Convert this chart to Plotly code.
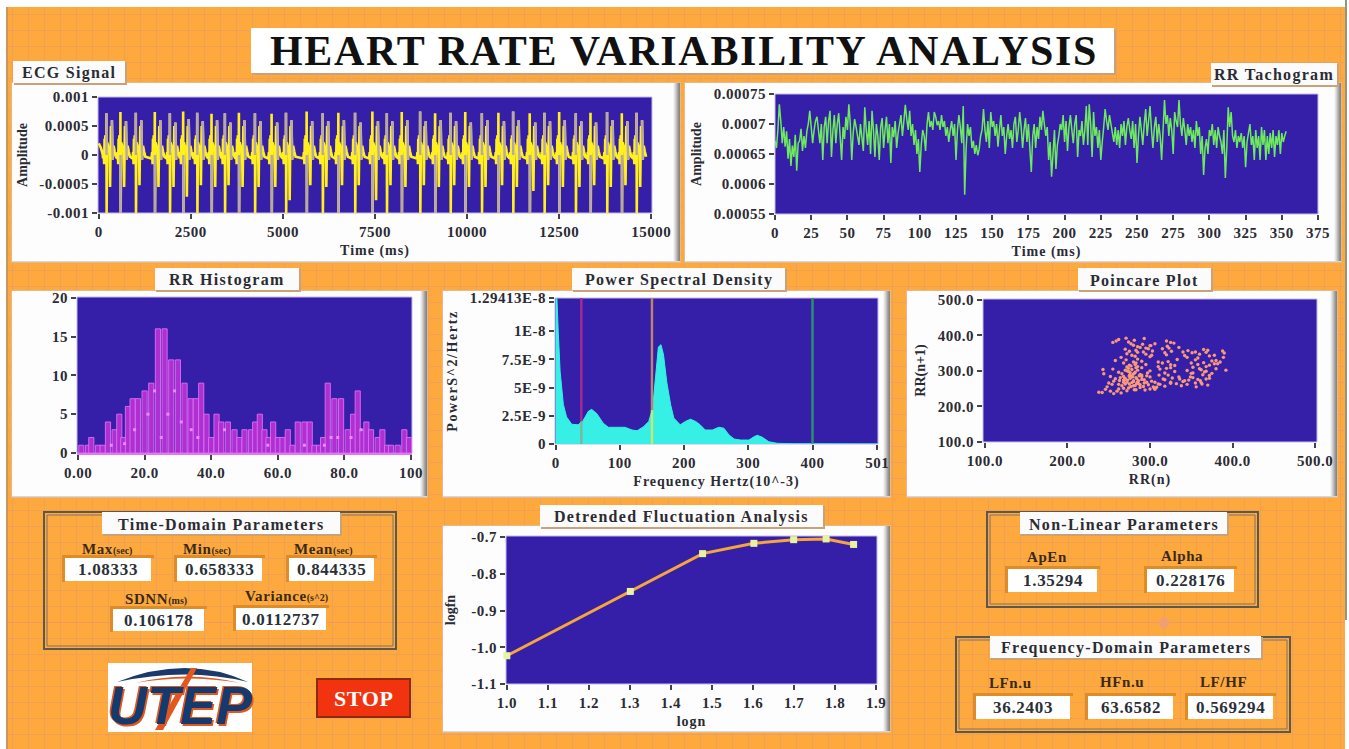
import plotly.graph_objects as go

W, H = 1349, 749
SERIF = "Liberation Serif"
INK = "#2b2b33"
ORANGE = "#FDA93E"
GRID = "#F0A056"
BLUE = "#361FA8"

# ---------- ECG ----------
ecg_beat_times = [208, 589, 1006, 1522, 1930, 2292, 2673, 3062, 3424, 3805, 4240, 4693, 5083, 5644, 6079, 6505,
                  6958, 7429, 7820, 8226, 8725, 9132, 9550, 9950, 10400, 10850, 11250, 11700, 12100, 12500,
                  12950, 13350, 13800, 14200, 14600]
ecg_up1 = [0.00072, 0.00074, 0.00073, 0.00074, 0.00072, 0.00075, 0.00073, 0.00071, 0.00072, 0.00073, 0.00072, 0.00071, 0.00073,
           0.00075, 0.00072, 0.00073, 0.00073, 0.00075, 0.00072, 0.00074, 0.00075, 0.00072, 0.00073, 0.00074, 0.00072, 0.00073,
           0.00075, 0.00072, 0.00073, 0.00074, 0.00072, 0.00073, 0.00074, 0.00072, 0.00073]
ecg_down2 = [-0.00055, -0.00055, -0.00052, -0.00055, -0.00055, -0.00072, -0.00052, -0.00055, -0.00052, -0.00055, -0.00055, -0.00055, -0.00078,
             -0.00052, -0.00055, -0.00052, -0.00052, -0.00078, -0.00052, -0.00055, -0.00052, -0.00055, -0.00052, -0.00055, -0.00055, -0.00052,
             -0.00055, -0.00062, -0.00052, -0.00055, -0.00055, -0.00052, -0.00055, -0.00052, -0.00055]
ecg_up2 = [0.00060, 0.00058, 0.00060, 0.00060, 0.00056, 0.00062, 0.00058, 0.00060, 0.00056, 0.00060, 0.00058, 0.00056, 0.00060,
           0.00058, 0.00058, 0.00060, 0.00056, 0.00058, 0.00058, 0.00060, 0.00058, 0.00060, 0.00058, 0.00056, 0.00060, 0.00058,
           0.00060, 0.00056, 0.00058, 0.00060, 0.00058, 0.00056, 0.00060, 0.00058, 0.00060]
ecg_lead_t = [0, 60, 105]
ecg_lead_v = [0.00020, 0.00012, 0.00002]
ecg_shape_dt = [-90, -72, -60, -50, -40, -30, -20, -12, -5]
ecg_shape_v = [-0.00006, 0.00005, -0.00016, 0.00028, -0.00012, 0.00034, -0.00015, 0.00032, -0.00010]
ecg_tail_dt = [170, 195, 225, 260]
ecg_tail_v = [-0.00008, 0.00016, 0.00006, -0.00003]
ECG_MIN = -0.001

# ---------- RR tachogram (micro-amplitude units) ----------
tach_values = [672,660,690,733,705,668,695,662,688,642,675,630,664,645,682,622,668,672,692,655,680,660,688,700,722,695,668,690,705,712,
690,668,700,640,695,712,668,705,722,645,690,715,668,700,718,680,640,695,675,712,690,733,700,640,685,708,695,680,665,700,
678,655,728,690,665,705,650,722,690,645,700,680,640,695,710,660,690,712,668,700,635,695,678,705,660,685,700,715,680,705,
732,708,690,722,680,700,665,690,650,675,620,665,690,680,655,700,720,695,705,690,720,712,698,705,690,715,695,705,680,695,
670,690,705,680,700,640,690,715,695,668,730,582,660,700,680,695,660,672,650,665,648,658,680,690,725,690,670,705,660,720,
695,705,680,700,662,690,715,680,695,650,680,700,675,690,660,700,712,670,690,720,695,660,690,710,670,700,660,620,680,700,
660,695,675,712,690,722,700,680,695,640,670,612,650,690,625,665,680,700,690,715,670,705,655,695,715,690,668,700,715,645,
690,680,705,665,690,730,665,733,700,645,720,680,695,660,690,640,670,695,725,705,690,715,700,685,670,695,665,690,660,700,
680,705,665,695,710,690,675,705,660,700,635,680,712,690,665,700,725,680,705,730,690,660,695,712,670,700,680,640,690,740,
700,715,680,710,690,650,720,705,695,740,700,680,710,690,665,700,680,695,670,690,660,705,680,695,650,680,615,660,675,650,690,680,700,665,
690,660,695,680,670,650,690,610,660,728,695,720,680,670,690,660,680,670,685,660,680,628,670,685,700,665,680,640,690,660,
680,640,695,665,690,640,680,650,685,660,690,645,680,665,690,650,685,670,680,688]

# ---------- RR histogram ----------
hist_x = [1,3,4,6,7.4,9,11,12.4,13.6,15,16.4,18,20,22,24,26,28,30,32,33.8,35.4,37,38.6,40,41.6,43,45,47,48.5,50,52,53.2,54.6,56,57.2,58.6,60,61.4,63,64.4,
          66,68,69.6,71,72.4,73.6,75,77,79,81,82.6,84,85.4,86.6,88,90,91.4,92.8,94,96,98,99.4]
hist_y = [1,1,2,1,1,4,3,5,2,6,7,7,8,9,16,16,12,12,9,7,7,9,5,2,5,4,4,3,2,3,3,4,5,3,2,4,2,2,3,1,
          4,4,4,1,1,2,9,7,7,3,5,8,3,4,3,2,3,1,1,1,3,2]
hist_dot_x = [10, 14, 17, 21, 23, 25, 27, 29, 31, 34, 36, 44, 57, 68, 74, 76, 78, 82, 85]
hist_dot_y = [1, 1.2, 3, 5, 8, 2, 5, 8, 4, 3, 2, 3, 1, 1, 1, 2, 2, 2, 3]

# ---------- Power spectral density (1E-9 units) ----------
psd_f = [0,2,4,7,12,17,25,35,43,51,56,64,74,82,95,108,119,127,137,145,151,155,160,164,168,173,179,184,194,202,210,218,225,233,244,254,262,270,278,288,301,309,314,322,332,345,371,501]
psd_p = [12.9,12.9,10,6.4,3.5,2.4,1.75,1.7,2.1,2.9,3.07,2.7,1.85,1.48,1.48,1.48,1.24,1.18,1.54,2,3.16,5.8,8.6,8.8,7.9,5.5,3.5,2.3,1.7,2.0,2.2,2,1.7,1.24,1.24,1.48,1.4,0.8,0.44,0.35,0.35,0.65,0.77,0.59,0.2,0.06,0.02,0]
psd_marker_f = [40, 150, 400]
psd_marker_level = [2.0, 3.0, 0.05]
psd_marker_upper = ["#A62B92", "#BE8468", "#2E8F72"]
psd_marker_lower = ["#7FB59A", "#C8E86A", "#2E8F72"]

# ---------- Poincare ----------
poin_x = [262,271,274,293,255,259,277,281,301,320,325,329,280,285,291,295,300,306,315,321,335,
          270,275,283,288,292,298,303,318,323,340,346,355,365,370,272,278,285,295,300,320,326,342,351,360,368,378,388,
          265,282,302,322,333,345,358,372,380,390,258,285,290,310,325,355,365,375,389,
          268,275,280,285,295,315,325,330,350,358,368,378,385,255,272,278,282,290,300,320,330,352,362,372,382,
          243,262,270,276,283,290,310,318,345,352,360,368,375,392,244,268,274,280,285,296,312,322,350,366,372,380,
          252,258,264,270,275,280,283,288,293,300,306,316,335,342,352,358,364,372,
          250,256,262,268,272,276,280,284,290,296,302,310,318,325,332,340,347,355,361,368,
          248,254,262,266,270,274,278,282,286,292,298,305,312,318,325,338,345,356,362,370,
          246,260,268,272,277,283,288,294,300,308,238,242,252,256,265,306,
          266,272,278,284,273,279,285,268,275,281,287,263,270,276,282,288,274,280,
          286,277,283,290,271,269,281,275,293,297,304,311,327,336,349,363]
poin_y = [388,392,381,391,380,384,376,386,371,384,380,378,372,368,375,364,371,376,362,369,366,
          361,355,358,366,353,362,356,351,364,353,357,353,360,358,348,344,352,347,340,345,355,343,351,347,352,344,356,
          338,341,344,326,332,338,336,342,329,350,329,333,327,325,317,331,323,328,338,
          322,316,325,312,318,322,309,315,322,318,312,320,325,305,311,304,318,309,300,307,298,310,303,316,320,
          304,296,302,295,309,288,312,294,301,294,306,299,293,302,292,284,298,291,302,286,305,288,293,297,287,306,
          284,278,281,276,287,272,281,290,275,283,268,277,283,272,281,276,289,279,
          266,271,262,274,268,279,270,265,276,268,271,263,275,268,264,270,274,266,272,277,
          255,262,249,258,263,252,267,259,264,256,261,252,262,257,265,258,262,255,267,260,
          248,243,251,244,256,247,253,246,249,254,240,239,243,236,238,248,
          292,300,285,278,274,283,268,268,263,293,286,273,279,288,296,261,307,258,
          272,314,322,284,331,276,247,285,266,294,255,288,280,277,283,263]

# ---------- Detrended fluctuation ----------
dfa_logn = [1.0, 1.301, 1.477, 1.602, 1.699, 1.778, 1.845]
dfa_logf = [-1.023, -0.848, -0.745, -0.717, -0.707, -0.705, -0.72]

# ---------- Read-outs ----------
time_domain = [("Max", "(sec)", "1.08333"), ("Min", "(sec)", "0.658333"), ("Mean", "(sec)", "0.844335"),
               ("SDNN", "(ms)", "0.106178"), ("Variance", "(s^2)", "0.0112737")]
nonlinear = [("ApEn", "", "1.35294"), ("Alpha", "", "0.228176")]
freq_domain = [("LFn.u", "", "36.2403"), ("HFn.u", "", "63.6582"), ("LF/HF", "", "0.569294")]


def X(p): return p / W
def Y(p): return 1 - p / H


def sp(s, px):
    return f'<span style="letter-spacing:{px}px">{s}</span>' if s else s


shapes, annotations = [], []


def rect(x0, y0, x1, y1, fill=None, line=None, lw=0):
    shapes.append(dict(type="rect", xref="paper", yref="paper", layer="below",
                       x0=X(x0), x1=X(x1), y0=Y(y1), y1=Y(y0),
                       fillcolor=fill if fill else "rgba(0,0,0,0)",
                       line=dict(color=line if line else "rgba(0,0,0,0)", width=lw)))


def path(d, fill):
    shapes.append(dict(type="path", xref="paper", yref="paper", layer="below", fillcolor=fill,
                       line=dict(width=0), path=d))


def text(x, y, s, size=15, color=INK, bold=True, family=SERIF, italic=False, anchor="center", angle=0, shadow=None):
    font = dict(family=family, size=size, color=color,
                weight="bold" if bold else "normal",
                style="italic" if italic else "normal")
    if shadow:
        font["shadow"] = shadow
    annotations.append(dict(xref="paper", yref="paper", x=X(x), y=Y(y), text=s, showarrow=False,
                            xanchor=anchor, yanchor="middle", textangle=angle, font=font))


def panel(x0, y0, x1, y1):
    rect(x0 - 1, y0 - 1, x1 + 1, y1 + 1, fill="#E7B98A")
    rect(x0, y0, x1, y1, fill="#FDFDFD")
    grad = ["#F4F4F4", "#E4E4E4", "#D2D2D2", "#BDBDBD", "#A8A8A8", "#949494", "#868686"]
    for i, c in enumerate(grad):
        rect(x1 - len(grad) + i, y0, x1 - len(grad) + i + 1, y1, fill=c)
    rect(x0, y1 - 1, x1, y1, fill="#D8D8D8")


def caption(x0, y0, x1, y1, s, size=16):
    rect(x0 + 1, y0 + 1, x1 + 2, y1 + 2, fill="#C9A27A")
    rect(x0, y0, x1, y1, fill="#FBFBFB")
    text((x0 + x1) / 2, (y0 + y1) / 2 + 1, sp(s, 1.3), size=size)


def frame(x0, y0, x1, y1):
    rect(x0, y0, x1, y1, line="#5C584F", lw=2)
    rect(x0 + 3, y0 + 3, x1 - 3, y1 - 3, line="#7B7266", lw=1)


def readout(lx, ly, name, sub, x0, y0, x1, y1, value):
    label = sp(name, 0.6) if not sub else f'{sp(name, 0.6)}<span style="font-size:10px">{sub}</span>'
    text(lx, ly, label, size=15, color="#3A2A15")
    rect(x0 - 3, y0 - 3, x1 + 3, y0, fill="#DE8C28")
    rect(x0 - 3, y0 - 3, x0, y1 + 1, fill="#DE8C28")
    rect(x0, y0, x1, y1, fill="#FFFFFF")
    text((x0 + x1) / 2, (y0 + y1) / 2, sp(value, 0.7), size=17, color="#2A3038")


# ---------- Page background ----------
rect(0, 0, W, H, fill=ORANGE)
for gx in range(12, W, 16):
    rect(gx, 0, gx + 1, H, fill=GRID)
for gy in range(14, H, 16):
    rect(0, gy, W, gy + 1, fill=GRID)
rect(0, 622, W, 623, fill="#EE9A5E")
rect(0, 0, 6, H, fill="#FFFFFF")
rect(6, 7, 8, H, fill="#C6985E")
rect(0, 0, W, 7, fill="#FFFFFF")
rect(1345, 0, W, H, fill="#FFFFFF")
rect(1345, 0, 1347, 620, fill="#8C9A84")

# ---------- Panels ----------
panel(12, 83, 680, 262)
panel(685, 83, 1341, 262)
panel(12, 291, 427, 497)
panel(443, 291, 890, 497)
panel(907, 291, 1337, 497)
panel(443, 526, 890, 732)

# title
rect(253, 30, 1116, 75, fill="#C9A27A")
rect(251, 28, 1114, 73, fill="#FFFFFF")
text(684, 51, sp("HEART RATE VARIABILITY ANALYSIS", 1.7), size=42, color="#111111")

caption(13, 61, 125, 83, "ECG Signal")
caption(1211, 63, 1337, 85, "RR Tachogram")
caption(155, 268, 299, 290, "RR Histogram")
caption(572, 268, 785, 290, "Power Spectral Density")
caption(1078, 268, 1211, 290, "Poincare Plot")
caption(540, 505, 823, 527, "Detrended Fluctuation Analysis")

# ---------- Parameter frames ----------
frame(44, 512, 396, 649)
caption(102, 512, 340, 534, "Time-Domain Parameters")
td_pos = [(107, 549, 65, 558, 151, 581), (207, 549, 177, 558, 262, 581), (323, 549, 289, 558, 374, 581),
          (156, 599, 113, 609, 204, 631), (286, 596, 236, 608, 326, 630)]
for (n, s, v), (lx, ly, x0, y0, x1, y1) in zip(time_domain, td_pos):
    readout(lx, ly, n, s, x0, y0, x1, y1, v)

frame(987, 512, 1258, 607)
caption(1020, 512, 1227, 534, "Non-Linear Parameters")
nl_pos = [(1047, 557, 1008, 569, 1097, 592), (1182, 556, 1147, 569, 1234, 592)]
for (n, s, v), (lx, ly, x0, y0, x1, y1) in zip(nonlinear, nl_pos):
    readout(lx, ly, n, s, x0, y0, x1, y1, v)

frame(956, 637, 1290, 732)
caption(990, 636, 1261, 658, "Frequency-Domain Parameters")
fd_pos = [(1010, 683, 976, 696, 1070, 719), (1122, 682, 1088, 696, 1173, 719), (1223, 682, 1188, 696, 1273, 719)]
for (n, s, v), (lx, ly, x0, y0, x1, y1) in zip(freq_domain, fd_pos):
    readout(lx, ly, n, s, x0, y0, x1, y1, v)

path(f"M {X(1164)} {Y(616)} L {X(1171)} {Y(623)} L {X(1164)} {Y(630)} L {X(1157)} {Y(623)} Z", "#F0A070")

# ---------- STOP ----------
rect(316, 678, 411, 718, fill="#8E2A14")
rect(318, 680, 409, 716, fill="#F2330F")
text(363, 698, sp("STOP", 0.6), size=22, color="#FFFFFF")

# ---------- Logo ----------
rect(108, 663, 252, 732, fill="#FFFFFF")
path(f"M {X(117)} {Y(682)} Q {X(187)} {Y(654)} {X(248)} {Y(682)} Q {X(187)} {Y(667)} {X(117)} {Y(682)} Z", "#1B3A6B")
path(f"M {X(135)} {Y(683)} Q {X(187)} {Y(670)} {X(240)} {Y(683)} Q {X(187)} {Y(674)} {X(135)} {Y(683)} Z", "#E2571E")
path(f"M {X(191)} {Y(668)} L {X(197)} {Y(668)} L {X(163)} {Y(730)} L {X(155)} {Y(730)} Z", "#E2571E")
text(180, 705, "UTEP", size=54, color="#143A6E", family="Liberation Sans", italic=True,
     shadow="1.5px 1.5px 0 #E2571E, -1.5px -1px 0 #E2571E")

# ---------- Data ----------
ecg_t, ecg_v = list(ecg_lead_t), list(ecg_lead_v)
grey_t, grey_v = [], []
for i, b in enumerate(ecg_beat_times):
    ecg_t += [b + d for d in ecg_shape_dt]
    ecg_v += ecg_shape_v
    ecg_t += [b, b + 6, b + 20, b + 90, b + 100, b + 122, b + 145, b + 150]
    ecg_v += [ecg_up1[i], ECG_MIN, 0.00022, 0.00005, ecg_down2[i], 0.00050, 0.00002, ecg_up2[i]]
    ecg_t += [b + d for d in ecg_tail_dt]
    ecg_v += ecg_tail_v
    if i % 2 == 0:
        grey_t += [b, b + 3, None]
        grey_v += [ecg_up1[i], 0.0, None]
    else:
        grey_t += [b + 3, b + 6, None]
        grey_v += [0.0, ECG_MIN, None]
    grey_t += [b + 150, b + 170, None]
    grey_v += [ecg_up2[i], -0.00008, None]

fig = go.Figure()


def area(k, l, r, t, b, xr, yr, xvals, xtext, yvals, ytext, xtitle="", ytitle="", xstand=6, ystand=8):
    rect(l, t, r, b, fill=BLUE, line="#C6B8EC", lw=1)
    tf = dict(family=SERIF, size=15, color=INK, weight="bold")
    xt = dict(text=sp(xtitle, 1.0), font=dict(family=SERIF, size=14, color=INK, weight="bold"), standoff=xstand)
    yt = dict(text=ytitle, font=dict(family=SERIF, size=14, color=INK, weight="bold"), standoff=ystand)
    common = dict(showgrid=False, zeroline=False, showline=False, ticks="outside", ticklen=5, tickcolor="#444",
                  tickwidth=1.5, tickmode="array", tickfont=tf, fixedrange=True)
    fig.update_layout(**{
        f"xaxis{k}": dict(common, domain=[X(l), X(r)], range=xr, anchor=f"y{k}", tickvals=xvals,
                          ticktext=[sp(v, 0.5) for v in xtext], title=xt, automargin=False),
        f"yaxis{k}": dict(common, domain=[Y(b), Y(t)], range=yr, anchor=f"x{k}", tickvals=yvals,
                          ticktext=[sp(v, 0.5) for v in ytext], title=yt, automargin=False)})


area(1, 98, 652, 97, 213, [-20, 15020], [-0.001, 0.001],
     [0, 2500, 5000, 7500, 10000, 12500, 15000], ["0", "2500", "5000", "7500", "10000", "12500", "15000"],
     [0.001, 0.0005, 0, -0.0005, -0.001], ["0.001", "0.0005", "0", "-0.0005", "-0.001"],
     "Time (ms)", "Amplitude")
area(2, 775, 1318, 94, 214, [0, 375], [550, 750],
     list(range(0, 376, 25)), [str(v) for v in range(0, 376, 25)],
     [750, 700, 650, 600, 550], ["0.00075", "0.0007", "0.00065", "0.0006", "0.00055"],
     "Time (ms)", "Amplitude")
area(3, 77, 412, 297, 453, [-0.3, 100.3], [0, 20.1],
     [0, 20, 40, 60, 80, 100], ["0.00", "20.0", "40.0", "60.0", "80.0", "100"],
     [0, 5, 10, 15, 20], ["0", "5", "10", "15", "20"])
area(4, 555, 878, 298, 444, [-1, 502], [0, 12.9413],
     [0, 100, 200, 300, 400, 501], ["0", "100", "200", "300", "400", "501"],
     [0, 2.5, 5, 7.5, 10, 12.9413, 12.6], ["0", "2.5E-9", "5E-9", "7.5E-9", "1E-8", "1.29413E-8", ""],
     "Frequency Hertz(10^-3)", sp("PowerS^2/Hertz", 1.6))
area(5, 983, 1317, 299, 442, [97.6, 502.4], [100, 502],
     [100, 200, 300, 400, 500], ["100.0", "200.0", "300.0", "400.0", "500.0"],
     [100, 200, 300, 400, 500], ["100.0", "200.0", "300.0", "400.0", "500.0"],
     "RR(n)", "RR(n+1)")
area(6, 506, 877, 536, 684, [0.998, 1.902], [-1.1, -0.697],
     [1.0, 1.1, 1.2, 1.3, 1.4, 1.5, 1.6, 1.7, 1.8, 1.9], ["1.0", "1.1", "1.2", "1.3", "1.4", "1.5", "1.6", "1.7", "1.8", "1.9"],
     [-0.7, -0.8, -0.9, -1.0, -1.1], ["-0.7", "-0.8", "-0.9", "-1.0", "-1.1"],
     "logn", "logfn", ystand=12)
fig.update_layout(xaxis3=dict(showline=True, linecolor="#E277F4", linewidth=2))

fig.add_trace(go.Scatter(x=ecg_t, y=ecg_v, mode="lines", line=dict(color="#FFF01E", width=2.6, simplify=False), xaxis="x", yaxis="y"))
fig.add_trace(go.Scatter(x=grey_t, y=grey_v, mode="lines", line=dict(color="#B6A6B0", width=2.4, simplify=False), xaxis="x", yaxis="y",
                         connectgaps=False))
fig.add_trace(go.Scatter(x=list(range(len(tach_values))), y=tach_values, mode="lines",
                         line=dict(color="#6CEB5C", width=1.5, simplify=False), xaxis="x2", yaxis="y2"))
fig.add_trace(go.Bar(x=hist_x, y=hist_y, width=1.55, marker=dict(color="#AE2FD2", line=dict(color="#DE6EF2", width=0.9)),
                     xaxis="x3", yaxis="y3"))
fig.add_trace(go.Scatter(x=hist_dot_x, y=hist_dot_y, mode="markers", marker=dict(color="#E98AF5", size=3, symbol="square"),
                         xaxis="x3", yaxis="y3"))
fig.add_trace(go.Scatter(x=psd_f, y=psd_p, mode="lines", fill="tozeroy", fillcolor="#36F0E6",
                         line=dict(color="#36F0E6", width=1), xaxis="x4", yaxis="y4"))
for f, lvl, up, lo in zip(psd_marker_f, psd_marker_level, psd_marker_upper, psd_marker_lower):
    fig.add_trace(go.Scatter(x=[f, f], y=[lvl, 12.9413], mode="lines", line=dict(color=up, width=2.4), xaxis="x4", yaxis="y4"))
    fig.add_trace(go.Scatter(x=[f, f], y=[0, lvl], mode="lines", line=dict(color=lo, width=2.4), xaxis="x4", yaxis="y4"))
fig.add_trace(go.Scatter(x=poin_x, y=poin_y, mode="markers", marker=dict(color="#F89A78", size=3.4),
                         xaxis="x5", yaxis="y5"))
fig.add_trace(go.Scatter(x=dfa_logn, y=dfa_logf, mode="lines+markers", line=dict(color="#F4A63A", width=3),
                         marker=dict(color="#E8F3A2", size=7, symbol="square"), xaxis="x6", yaxis="y6", cliponaxis=False))

fig.update_layout(width=W, height=H, autosize=False, margin=dict(l=0, r=0, t=0, b=0, pad=0),
                  paper_bgcolor=ORANGE, plot_bgcolor="rgba(0,0,0,0)", showlegend=False, barmode="overlay",
                  shapes=shapes, annotations=annotations, hovermode=False)

fig.write_html("out.html", config={"displayModeBar": False},
               post_script="document.body.style.margin='0';document.body.style.overflow='hidden';")
